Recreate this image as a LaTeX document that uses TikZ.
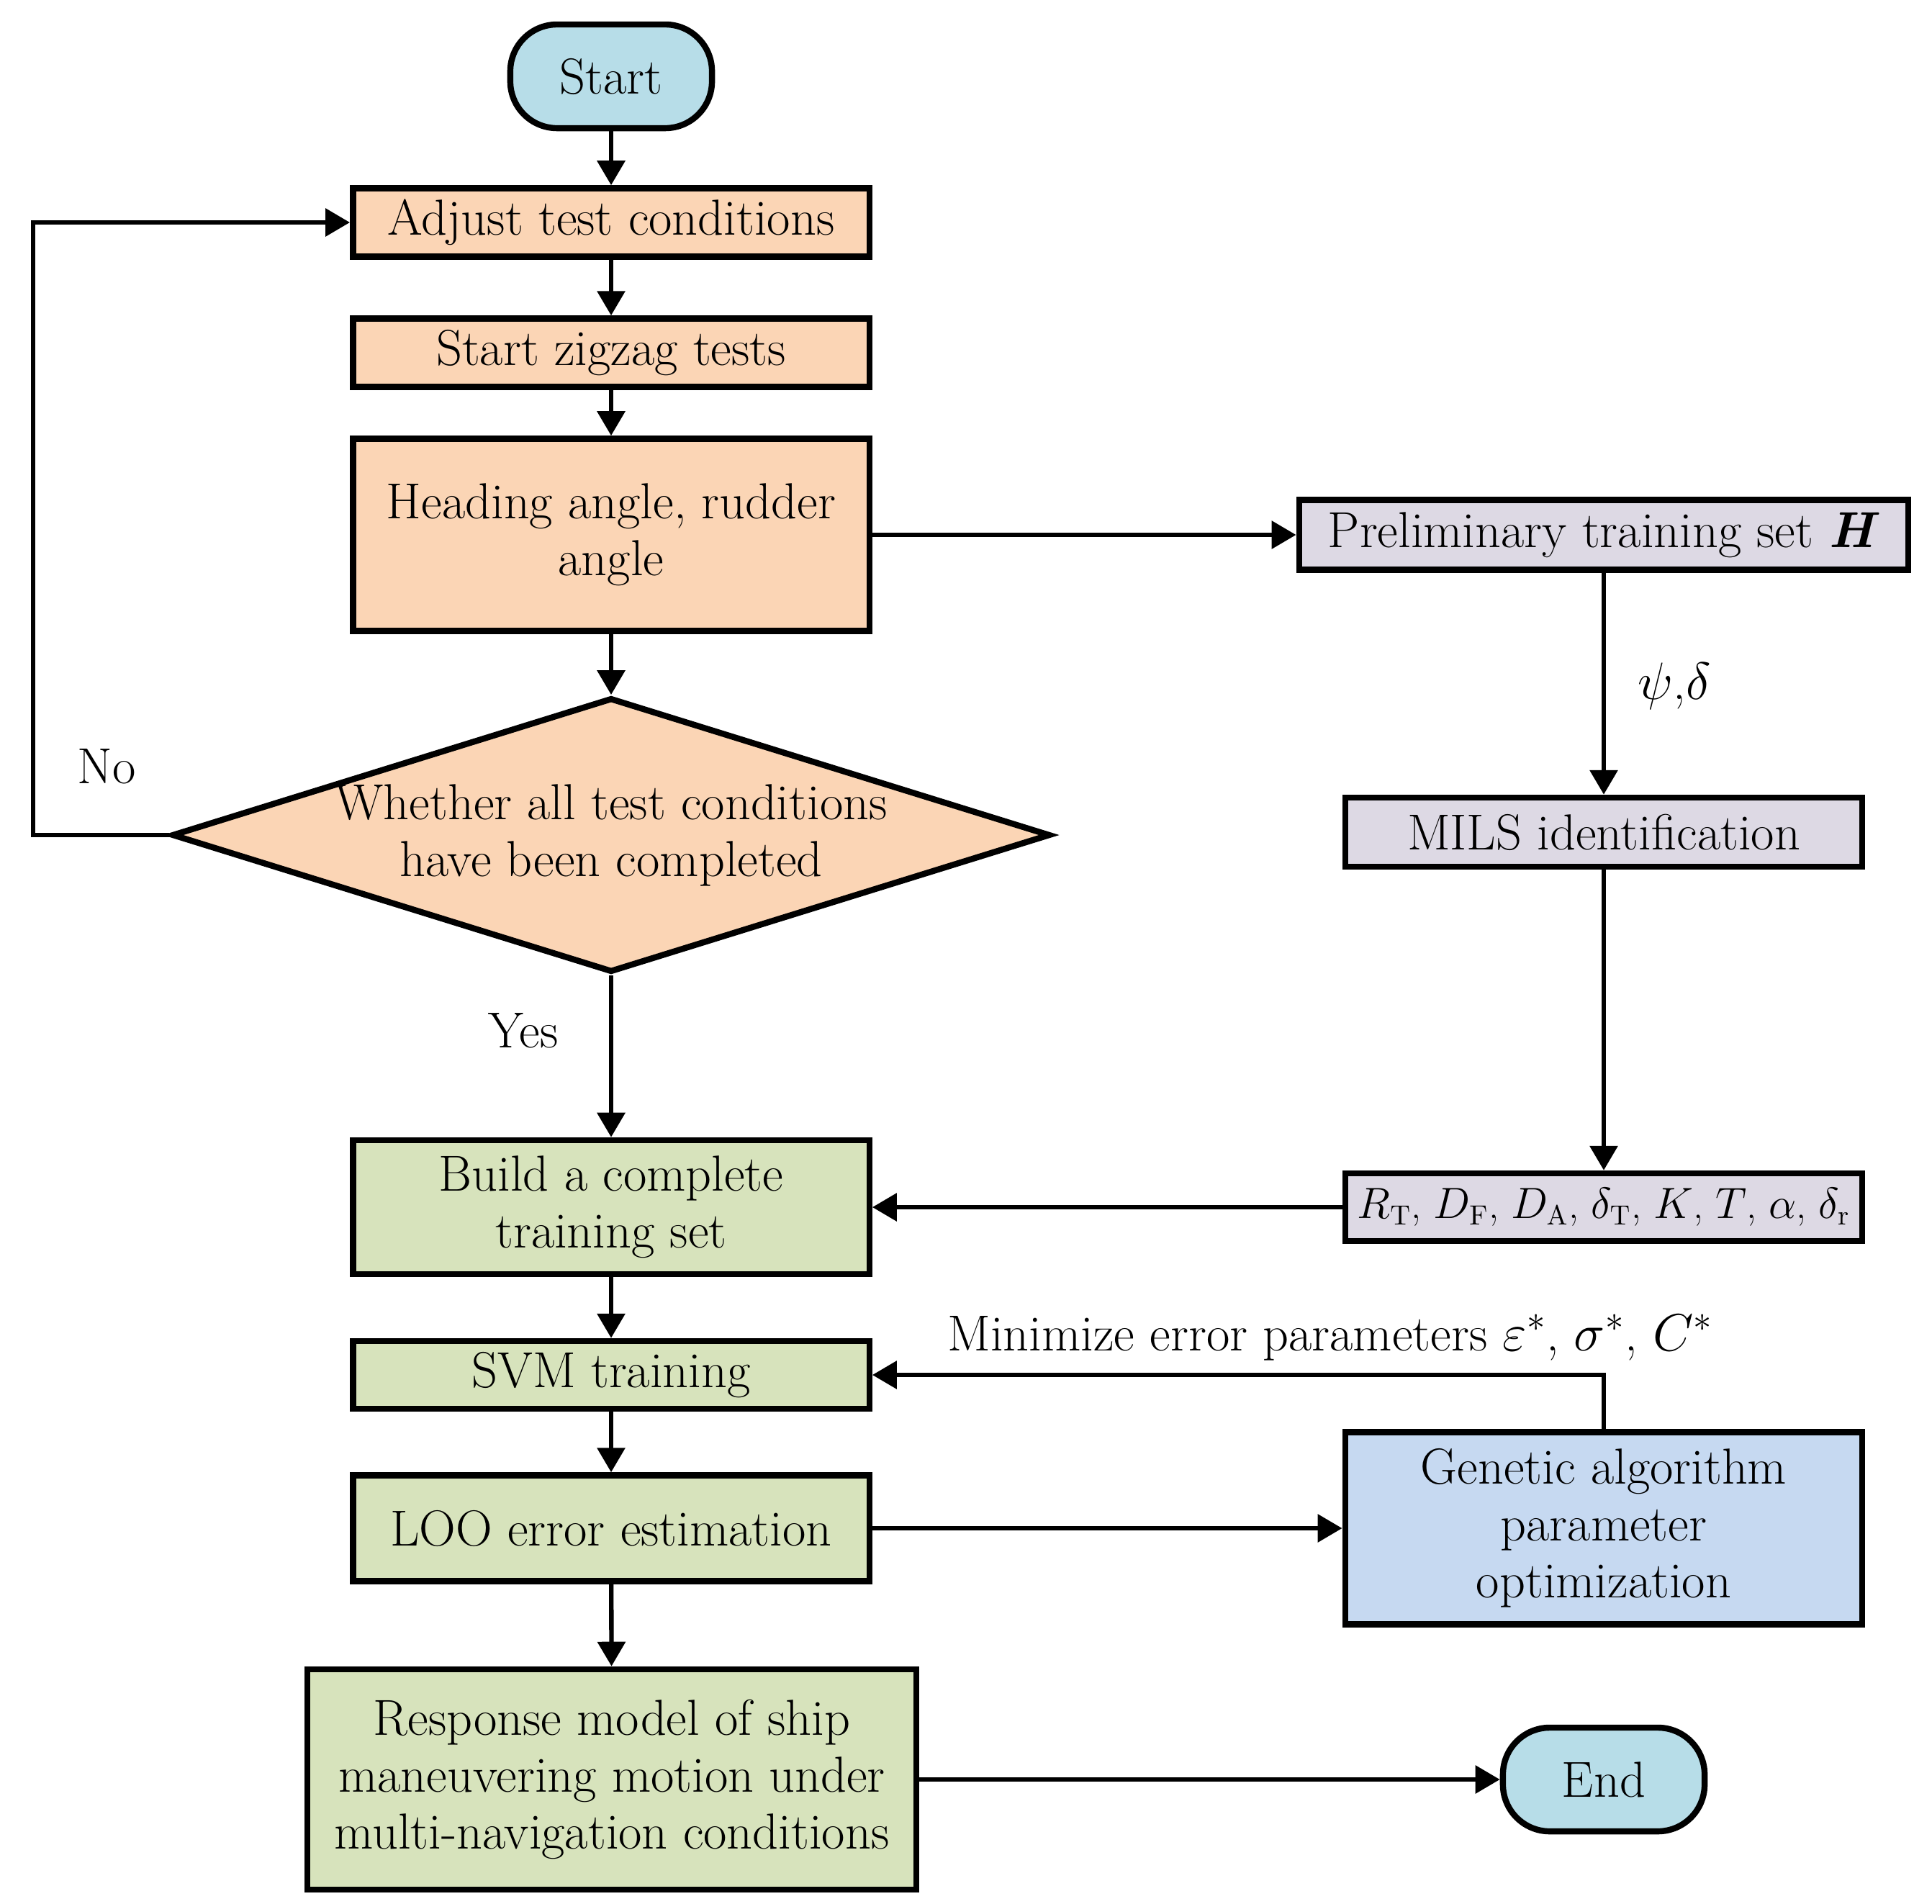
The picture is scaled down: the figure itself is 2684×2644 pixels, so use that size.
\documentclass[tikz,border=0pt]{standalone}
\usetikzlibrary{shapes.geometric,arrows.meta}
\definecolor{termblue}{RGB}{183,221,232}
\definecolor{peach}{RGB}{251,213,181}
\definecolor{lavender}{RGB}{221,217,228}
\definecolor{olivegreen}{RGB}{215,227,188}
\definecolor{gablue}{RGB}{198,217,241}
\begin{document}
\begin{tikzpicture}[x=0.01cm,y=-0.01cm,
    every node/.style={font=\fontsize{20}{22.5}\selectfont},
    box/.style={draw,line width=2.4pt,align=center,inner sep=2pt},
    terminal/.style={box,rounded corners=0.65cm,fill=termblue,minimum width=2.8cm,minimum height=1.44cm},
    test/.style={box,fill=peach,minimum width=7.17cm},
    ident/.style={box,fill=lavender,minimum width=7.18cm},
    train/.style={box,fill=olivegreen,minimum width=7.17cm},
    decision/.style={diamond,draw,line width=2.4pt,fill=peach,aspect=3.2,inner sep=0pt,
      align=center,minimum width=12.0cm,minimum height=3.75cm},
    link/.style={-{Triangle[length=0.34cm,width=0.38cm]},line width=1.8pt}]
  \useasboundingbox (0,0) rectangle (2684,2644);

  \node[terminal] (start) at (849,106) {Start};
  \node[test,minimum height=0.95cm] (adjust) at (849,309) {Adjust test conditions};
  \node[test,minimum height=0.95cm] (zigzag) at (849,490) {Start zigzag tests};
  \node[test,minimum height=2.67cm] (heading) at (849,743) {Heading angle, rudder\\angle};
  \node[decision] (check) at (849,1160) {Whether all test conditions\\have been completed};
  \node[train,minimum height=1.86cm] (build) at (849,1677) {Build a complete\\training set};
  \node[train,minimum height=0.94cm] (svm) at (849,1910) {SVM training};
  \node[train,minimum height=1.47cm] (loo) at (849,2123) {LOO error estimation};
  \node[train,minimum width=8.45cm,minimum height=3.06cm] (model) at (850,2472)
    {Response model of ship\\maneuvering motion under\\multi-navigation conditions};
  \node[terminal] (end) at (2228,2472) {End};

  \node[ident,minimum width=8.46cm,minimum height=0.97cm] (prelim) at (2228,743)
    {Preliminary training set \textbf{\textit{H}}};
  \node[ident,minimum height=0.96cm] (mils) at (2228,1156) {MILS identification};
  \node[ident,minimum height=0.94cm,font=\fontsize{16}{20}\selectfont] (params) at (2228,1677)
    {$R_{\mathrm{T}}$, $D_{\mathrm{F}}$, $D_{\mathrm{A}}$, $\delta_{\mathrm{T}}$, $K$, $T$, $\alpha$, $\delta_{\mathrm{r}}$};
  \node[box,fill=gablue,minimum width=7.18cm,minimum height=2.67cm] (ga) at (2228,2123)
    {Genetic algorithm\\parameter\\optimization};

  \node (no) at (148,1065) {No};
  \node (yes) at (727,1432) {Yes};
  \node (psidelta) at (2326,953) {$\psi$,$\delta$};
  \node (minerr) at (1848,1858) {Minimize error parameters $\varepsilon^{*}$, $\sigma^{*}$, $C^{*}$};
  \coordinate (loop) at (46,1160);

  \draw[link] (start) -- (adjust);
  \draw[link] (adjust) -- (zigzag);
  \draw[link] (zigzag) -- (heading);
  \draw[link] (heading) -- (check);
  \draw[link] (check) -- (build);
  \draw[link] (build) -- (svm);
  \draw[link] (svm) -- (loo);
  \draw[link] (loo) -- (model);
  \draw[link] (check.west) -- (loop) |- (adjust.west);
  \draw[link] (heading) -- (prelim);
  \draw[link] (prelim) -- (mils);
  \draw[link] (mils) -- (params);
  \draw[link] (params) -- (build);
  \draw[link] (loo) -- (ga);
  \draw[link] (ga.north) |- (svm.east);
  \draw[link] (model) -- (end);
\end{tikzpicture}
\end{document}
